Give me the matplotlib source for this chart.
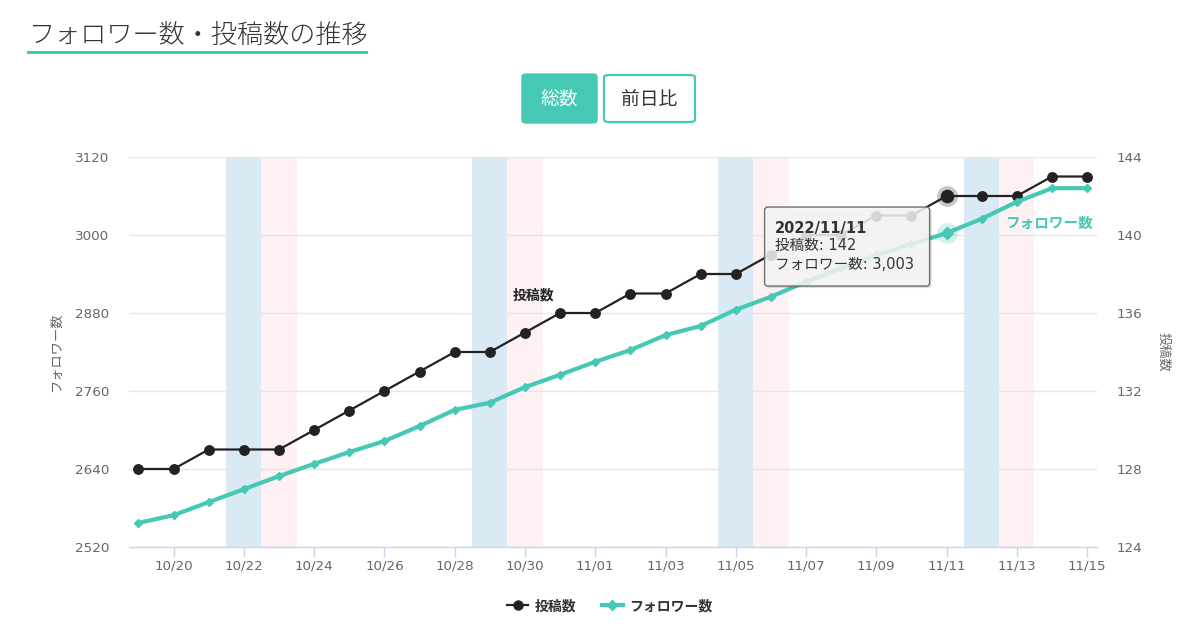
import matplotlib
matplotlib.use("Agg")
import matplotlib.pyplot as plt
from matplotlib.patches import FancyBboxPatch
from matplotlib.lines import Line2D
import matplotlib.transforms as mtransforms
import pandas as pd

plt.rcParams['font.family'] = ['DejaVu Sans', 'Noto Sans CJK JP']

# ---------------- data ----------------
start_date = "2022-10-19"
end_date = "2022-11-15"
posts = [128, 128, 129, 129, 129, 130, 131, 132, 133, 134, 134, 135, 136, 136,
         137, 137, 138, 138, 139, 140, 140, 141, 141, 142, 142, 142, 143, 143]
followers = [2557, 2569, 2589, 2609, 2629, 2648, 2666, 2683, 2706, 2731, 2742,
             2766, 2785, 2805, 2823, 2846, 2860, 2885, 2905, 2928, 2949, 2969,
             2986, 3003, 3025, 3051, 3072, 3072]
left_ticks = [2520, 2640, 2760, 2880, 3000, 3120]
right_ticks = [124, 128, 132, 136, 140, 144]
hover_date = "2022-11-11"
title = "フォロワー数・投稿数の推移"
series_posts = "投稿数"
series_followers = "フォロワー数"
buttons = ["総数", "前日比"]

# ---------------- style ----------------
TEAL = "#45c8b4"
BLACK = "#222222"
GRID = "#e6e6e6"
AXIS = "#ccd6eb"
LABEL = "#666666"
SAT = "#d9eaf5"
SUN = "#fdf1f4"

dates = pd.date_range(start_date, end_date, freq="D")
x = list(range(len(dates)))
hi = list(dates.strftime("%Y-%m-%d")).index(hover_date)

W, H = 1196, 644
fig = plt.figure(figsize=(W / 100, H / 100), dpi=100)
fig.patch.set_facecolor("white")

L, R, T, B = 129, 1097, 157, 547
ax = fig.add_axes([L / W, 1 - B / H, (R - L) / W, (B - T) / H])
ax2 = ax.twinx()
ax.set_zorder(2)
ax2.set_zorder(1)
ax.patch.set_visible(False)
ax2.patch.set_visible(True)
ax2.patch.set_facecolor("white")

ax.set_xlim(-0.27, len(x) - 1 + 0.28)
ax.set_ylim(left_ticks[0], left_ticks[-1])
ax2.set_ylim(right_ticks[0], right_ticks[-1])

# weekend bands
for i, d in enumerate(dates):
    if d.weekday() == 5:
        ax2.axvspan(i - 0.5, i + 0.5, color=SAT, lw=0, zorder=0.1)
    elif d.weekday() == 6:
        ax2.axvspan(i - 0.5, i + 0.5, color=SUN, lw=0, zorder=0.1)

ax2.set_yticks(right_ticks)
ax2.grid(axis="y", color=GRID, lw=1, zorder=0.5)
ax2.set_axisbelow(True)
ax.set_yticks(left_ticks)

for a in (ax, ax2):
    for s in a.spines.values():
        s.set_visible(False)
ax.spines["bottom"].set_visible(True)
ax.spines["bottom"].set_color(AXIS)
ax.spines["bottom"].set_linewidth(1)

tick_idx = list(range(1, len(x), 2))
ax.set_xticks(tick_idx)
ax.set_xticklabels([dates[i].strftime("%m/%d") for i in tick_idx])
ax.tick_params(axis="x", length=7.5, width=1, color=AXIS, pad=1.5,
               labelsize=9.7, labelcolor=LABEL)
ax.tick_params(axis="y", length=0, pad=14, labelsize=9.7, labelcolor=LABEL)
ax2.tick_params(axis="y", length=0, pad=14, labelsize=9.7, labelcolor=LABEL)

ax.set_ylabel(series_followers, color=LABEL, fontsize=9.5, labelpad=9)
ax2.set_ylabel(series_posts, color=LABEL, fontsize=9.5, rotation=270, labelpad=20)

# series
ax2.plot(x, posts, color=BLACK, lw=1.6, marker="o", ms=6.8, zorder=3)
ax.plot(x, followers, color=TEAL, lw=3, marker="D", ms=4.5, zorder=3)

# hover state
ax2.plot(x[hi], posts[hi], "o", ms=15, color="#000000", alpha=0.22, mec="none", zorder=2.9)
ax2.plot(x[hi], posts[hi], "o", ms=9.8, color=BLACK, mec="none", zorder=4)
ax.plot(x[hi], followers[hi], "o", ms=15, color=TEAL, alpha=0.25, mec="none", zorder=2.9)
ax.plot(x[hi], followers[hi], "D", ms=6.8, color=TEAL, mec="none", zorder=4)

# series labels
ax2.text(11.24, 136.9, series_posts, fontsize=10, fontweight="bold", color=BLACK,
         ha="center", va="center", zorder=5)
ax.text(25.92, 3018.5, series_followers, fontsize=10.5, fontweight="bold", color=TEAL,
        ha="center", va="center", zorder=5)

# tooltip anchored to hovered point
px, py = ax.transData.transform((x[hi], followers[hi]))
ident = mtransforms.IdentityTransform()
shadow = FancyBboxPatch((px - 182 + 2, py - 53 - 2), 165, 79,
                        boxstyle="round,pad=0,rounding_size=3",
                        transform=ident, facecolor="#000000", alpha=0.12,
                        edgecolor="none", zorder=9)
box = FancyBboxPatch((px - 182, py - 53), 165, 79,
                     boxstyle="round,pad=0,rounding_size=3",
                     transform=ident, facecolor=(0.97, 0.97, 0.97, 0.85),
                     edgecolor="#6e6e6e", lw=1, zorder=10)
fig.add_artist(shadow)
fig.add_artist(box)
tx = px - 172
fig.text(tx, py + 5, dates[hi].strftime("%Y/%m/%d"), transform=ident, fontsize=10.5,
         fontweight="bold", color="#333333", va="center", ha="left", zorder=11)
fig.text(tx, py - 12, f"{series_posts}: {posts[hi]}", transform=ident, fontsize=10.5,
         color="#333333", va="center", ha="left", zorder=11)
fig.text(tx, py - 31, f"{series_followers}: {followers[hi]:,}", transform=ident,
         fontsize=10.5, color="#333333", va="center", ha="left", zorder=11)

# title with underline
fig.text(29 / W, 1 - 36 / H, title, fontsize=18.8, color="#333333", fontweight="light",
         family=["Noto Sans CJK JP", "DejaVu Sans"], va="center", ha="left")
fig.add_artist(Line2D([28 / W, 366 / W], [1 - 52 / H, 1 - 52 / H],
                      color=TEAL, lw=2.2, transform=fig.transFigure))

# buttons
b1 = FancyBboxPatch((522 / W, 1 - 123 / H), 75 / W, 49 / H,
                    boxstyle="round,pad=0,rounding_size=0.004",
                    transform=fig.transFigure, facecolor=TEAL, edgecolor=TEAL, lw=1)
b2 = FancyBboxPatch((604 / W, 1 - 122 / H), 91 / W, 47 / H,
                    boxstyle="round,pad=0,rounding_size=0.004",
                    transform=fig.transFigure, facecolor="white", edgecolor=TEAL, lw=1.6)
fig.add_artist(b1)
fig.add_artist(b2)
fig.text(559.5 / W, 1 - 99 / H, buttons[0], fontsize=13.5, color="white",
         family=["Noto Sans CJK JP"], ha="center", va="center")
fig.text(649.5 / W, 1 - 99 / H, buttons[1], fontsize=13.5, color="#333333",
         family=["Noto Sans CJK JP"], ha="center", va="center")

# legend
handles = [Line2D([], [], color=BLACK, lw=1.6, marker="o", ms=6.5),
           Line2D([], [], color=TEAL, lw=3, marker="D", ms=5)]
leg = fig.legend(handles, [series_posts, series_followers], loc="center",
                 bbox_to_anchor=(610 / W, 1 - 606 / H), ncol=2, frameon=False,
                 prop={"size": 10, "weight": "bold", "family": ["Noto Sans CJK JP"]},
                 handlelength=1.5, handletextpad=0.5, columnspacing=1.8)
for t in leg.get_texts():
    t.set_color("#333333")

fig.savefig("out.png", dpi=100)
